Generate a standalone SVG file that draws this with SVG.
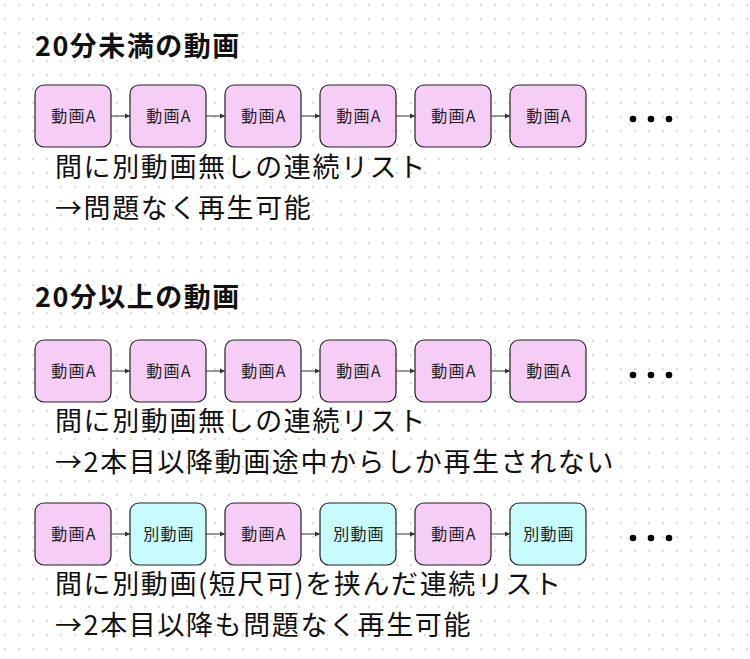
<svg xmlns="http://www.w3.org/2000/svg" width="750" height="659" viewBox="0 0 750 659">
<defs>
<pattern id="dots" width="14" height="14" patternUnits="userSpaceOnUse"><circle cx="5" cy="5" r="1.3" fill="#dcdcdc"/></pattern>
<marker id="ah" markerWidth="6" markerHeight="6" refX="5" refY="3" orient="auto" markerUnits="userSpaceOnUse"><path d="M0,0.5 L5,3 L0,5.5 Z" fill="#333"/></marker>
<g id="ell"><circle cx="0" cy="0" r="3.3" fill="#000"/><circle cx="18" cy="0" r="3.3" fill="#000"/><circle cx="36" cy="0" r="3.3" fill="#000"/></g>
</defs>
<style>
.a rect{fill:#f5cdf5;stroke:#222;stroke-width:1.2}
.b rect{fill:#c8fbfb;stroke:#222;stroke-width:1.2}
.n text{font-family:"Noto Sans CJK JP",sans-serif;font-size:16px;letter-spacing:1.2px;text-anchor:middle;fill:#222}
.t{font-family:"Noto Sans CJK JP",sans-serif;font-size:27px;font-weight:bold;letter-spacing:1.5px;fill:#111}
.d{font-family:"Noto Sans CJK JP",sans-serif;font-size:27px;letter-spacing:1.6px;fill:#111}
.c line{stroke:#333;stroke-width:1;marker-end:url(#ah)}
</style>
<rect width="750" height="659" fill="#fff"/>
<rect width="750" height="659" fill="url(#dots)"/>
<text class="t" x="35" y="56">20分未満の動画</text>
<text class="t" x="35" y="307">20分以上の動画</text>

<g id="r1n1" class="n a"><rect x="35" y="85" width="76" height="62" rx="9"/><text x="74" y="122">動画A</text></g>
<g id="r1n2" class="n a"><rect x="130" y="85" width="76" height="62" rx="9"/><text x="169" y="122">動画A</text></g>
<g id="r1n3" class="n a"><rect x="225" y="85" width="76" height="62" rx="9"/><text x="264" y="122">動画A</text></g>
<g id="r1n4" class="n a"><rect x="320" y="85" width="76" height="62" rx="9"/><text x="359" y="122">動画A</text></g>
<g id="r1n5" class="n a"><rect x="415" y="85" width="76" height="62" rx="9"/><text x="454" y="122">動画A</text></g>
<g id="r1n6" class="n a"><rect x="510" y="85" width="76" height="62" rx="9"/><text x="549" y="122">動画A</text></g>

<g id="r2n1" class="n a"><rect x="35" y="340" width="76" height="62" rx="9"/><text x="74" y="377">動画A</text></g>
<g id="r2n2" class="n a"><rect x="130" y="340" width="76" height="62" rx="9"/><text x="169" y="377">動画A</text></g>
<g id="r2n3" class="n a"><rect x="225" y="340" width="76" height="62" rx="9"/><text x="264" y="377">動画A</text></g>
<g id="r2n4" class="n a"><rect x="320" y="340" width="76" height="62" rx="9"/><text x="359" y="377">動画A</text></g>
<g id="r2n5" class="n a"><rect x="415" y="340" width="76" height="62" rx="9"/><text x="454" y="377">動画A</text></g>
<g id="r2n6" class="n a"><rect x="510" y="340" width="76" height="62" rx="9"/><text x="549" y="377">動画A</text></g>

<g id="r3n1" class="n a"><rect x="35" y="503" width="76" height="62" rx="9"/><text x="74" y="540">動画A</text></g>
<g id="r3n2" class="n b"><rect x="130" y="503" width="76" height="62" rx="9"/><text x="169" y="540">別動画</text></g>
<g id="r3n3" class="n a"><rect x="225" y="503" width="76" height="62" rx="9"/><text x="264" y="540">動画A</text></g>
<g id="r3n4" class="n b"><rect x="320" y="503" width="76" height="62" rx="9"/><text x="359" y="540">別動画</text></g>
<g id="r3n5" class="n a"><rect x="415" y="503" width="76" height="62" rx="9"/><text x="454" y="540">動画A</text></g>
<g id="r3n6" class="n b"><rect x="510" y="503" width="76" height="62" rx="9"/><text x="549" y="540">別動画</text></g>

<g id="connectors" class="c">
<line x1="111" y1="116" x2="130" y2="116"/><line x1="206" y1="116" x2="225" y2="116"/><line x1="301" y1="116" x2="320" y2="116"/><line x1="396" y1="116" x2="415" y2="116"/><line x1="491" y1="116" x2="510" y2="116"/>
<line x1="111" y1="371" x2="130" y2="371"/><line x1="206" y1="371" x2="225" y2="371"/><line x1="301" y1="371" x2="320" y2="371"/><line x1="396" y1="371" x2="415" y2="371"/><line x1="491" y1="371" x2="510" y2="371"/>
<line x1="111" y1="534" x2="130" y2="534"/><line x1="206" y1="534" x2="225" y2="534"/><line x1="301" y1="534" x2="320" y2="534"/><line x1="396" y1="534" x2="415" y2="534"/><line x1="491" y1="534" x2="510" y2="534"/>
</g>
<use href="#ell" x="633" y="119"/>
<use href="#ell" x="633" y="375"/>
<use href="#ell" x="633" y="538"/>

<text class="d" x="55" y="177">間に別動画無しの連続リスト</text>
<text class="d" x="55" y="218">→問題なく再生可能</text>
<text class="d" x="55" y="431">間に別動画無しの連続リスト</text>
<text class="d" x="55" y="472">→2本目以降動画途中からしか再生されない</text>
<text class="d" x="55" y="594">間に別動画(短尺可)を挟んだ連続リスト</text>
<text class="d" x="55" y="635">→2本目以降も問題なく再生可能</text>
</svg>
